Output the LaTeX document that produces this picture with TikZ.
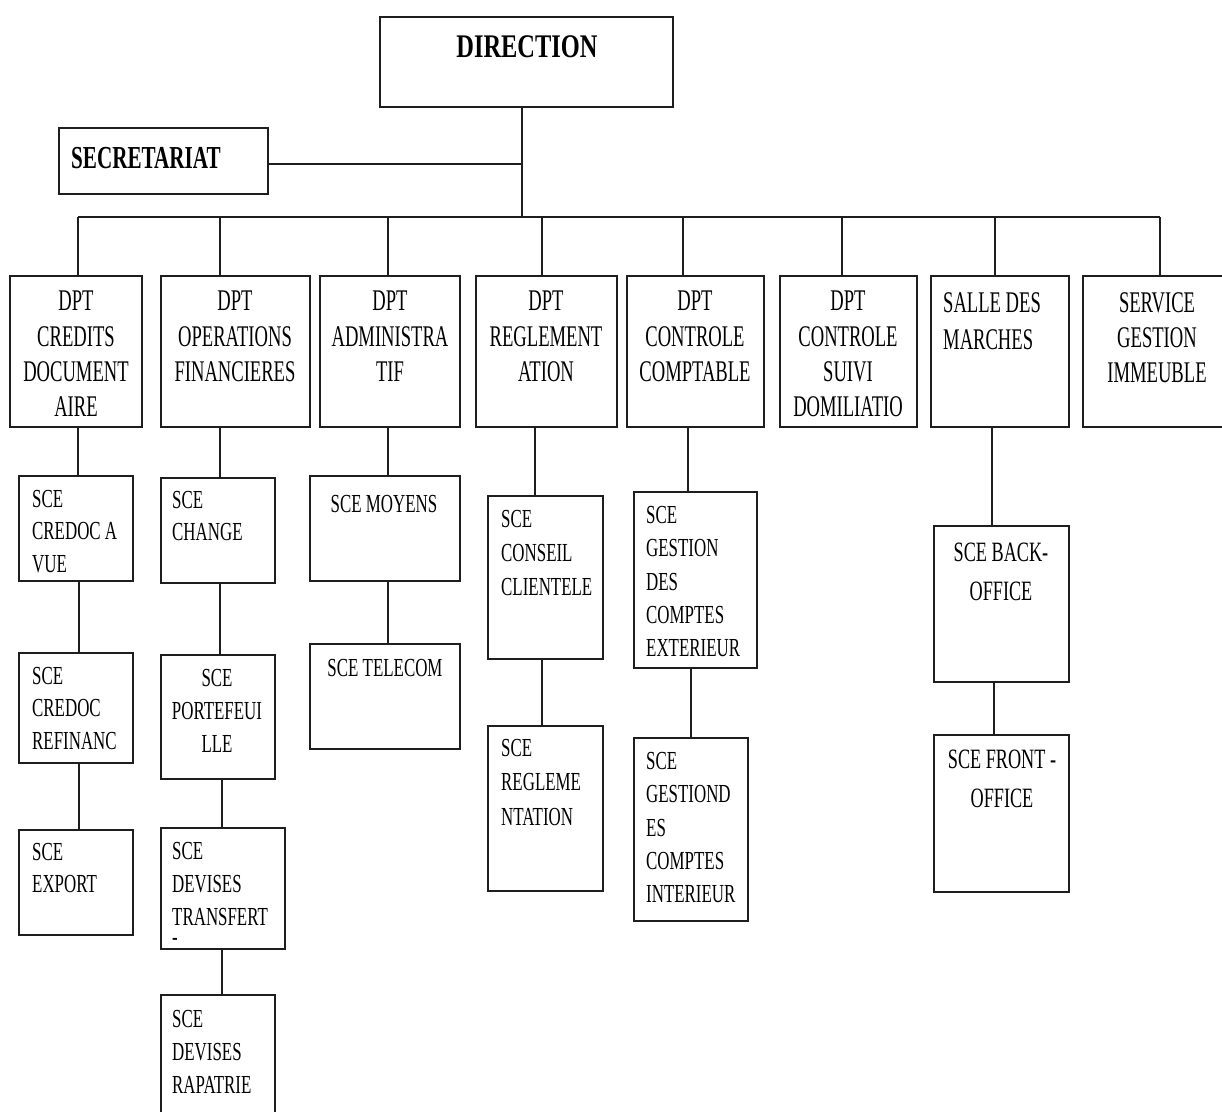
\documentclass[tikz,border=0pt]{standalone}
\usepackage{fontspec}
\usetikzlibrary{fit}
\newfontfamily\dptfont[FakeStretch=0.62]{Liberation Serif}
\newfontfamily\scefont[FakeStretch=0.65]{Liberation Serif}
\newfontfamily\dirfont[FakeStretch=0.74]{Liberation Serif}
\newfontfamily\secfont[FakeStretch=0.66]{Liberation Serif}
\definecolor{ink}{HTML}{1E1E1E}
\tikzset{
  box/.style={draw=ink, line width=1.6pt, inner sep=0pt, outer sep=0pt},
  link/.style={draw=ink, line width=1.6pt},
  dpt/.style={inner sep=0pt, anchor=north, align=center, text=black,
    font={\dptfont\fontsize{30}{35.3}\selectfont}},
  sce/.style={inner sep=0pt, anchor=north west, align=left, text=black,
    font={\scefont\fontsize{26}{33}\selectfont}},
  scec/.style={sce, anchor=north, align=center},
  scebig/.style={scec, font={\scefont\fontsize{28}{39}\selectfont}},
}
\begin{document}
\begin{tikzpicture}[x=1pt, y=-1pt]
\useasboundingbox (0,0) rectangle (1222,1111);

% top of the chart
\node[box, fit={(380,17) (673,107)}] (dir) {};
\node[inner sep=0pt, anchor=north, font={\dirfont\bfseries\fontsize{33}{36}\selectfont}] (dirt) at (527,35) {DIRECTION};
\node[box, fit={(59,128) (268,194)}] (sec) {};
\node[inner sep=0pt, anchor=north west, font={\secfont\bfseries\fontsize{32}{36}\selectfont}] (sect) at (71,147) {SECRETARIAT};

\coordinate (hub) at (522,164);
\coordinate (bus) at (522,217);
\draw[link] (dir.south -| hub) -- (bus);
\draw[link] (sec.east |- hub) -- (hub);

% departments
\node[box, fit={(10,276) (142,427)}] (d1) {};
\node[box, fit={(161,276) (310,427)}] (d2) {};
\node[box, fit={(320,276) (460,427)}] (d3) {};
\node[box, fit={(476,276) (617,427)}] (d4) {};
\node[box, fit={(627,276) (764,427)}] (d5) {};
\node[box, fit={(780,276) (917,427)}] (d6) {};
\node[box, fit={(931,276) (1069,427)}] (d7) {};
\node[box, fit={(1083,276) (1224,427)}] (d8) {};

\node[dpt] (d1t) at (76,291) {DPT\\CREDITS\\DOCUMENT\\AIRE};
\node[dpt] (d2t) at (235,291) {DPT\\OPERATIONS\\FINANCIERES};
\node[dpt] (d3t) at (390,291) {DPT\\ADMINISTRA\\TIF};
\node[dpt] (d4t) at (546,291) {DPT\\REGLEMENT\\ATION};
\node[dpt] (d5t) at (695,291) {DPT\\CONTROLE\\COMPTABLE};
\node[dpt] (d6t) at (848,291) {DPT\\CONTROLE\\SUIVI\\DOMILIATIO};
\node[dpt, anchor=north west, align=left, font={\dptfont\fontsize{30}{37.5}\selectfont}] (d7t) at (943,292) {SALLE DES\\MARCHES};
\node[dpt] (d8t) at (1157,292) {SERVICE\\GESTION\\IMMEUBLE};

% bus to the departments
\coordinate (busl) at (78,217);
\coordinate (busr) at (1160,217);
\draw[link] (busl) -- (busr);
\foreach \n/\x in {d1/78, d2/220, d3/388, d4/542, d5/683, d6/842, d7/995, d8/1160}
  \draw[link] (\x,217) -- (\n.north -| \x,0);

% services, column 1
\node[box, fit={(19,476) (133,581)}] (s11) {};
\node[box, fit={(19,653) (133,763)}] (s12) {};
\node[box, fit={(19,830) (133,935)}] (s13) {};
\node[sce, font={\scefont\fontsize{26}{32.5}\selectfont}] (s11t) at (32,490) {SCE\\CREDOC A\\VUE};
\node[sce, font={\scefont\fontsize{26}{32.5}\selectfont}] (s12t) at (32,667) {SCE\\CREDOC\\REFINANC};
\node[sce, font={\scefont\fontsize{26}{32.5}\selectfont}] (s13t) at (32,843) {SCE\\EXPORT};
\draw[link] (d1.south -| 78,0) -- (s11.north -| 78,0);
\draw[link] (s11.south -| 79,0) -- (s12.north -| 79,0);
\draw[link] (s12.south -| 79,0) -- (s13.north -| 79,0);

% services, column 2
\node[box, fit={(161,478) (275,583)}] (s21) {};
\node[box, fit={(161,655) (275,779)}] (s22) {};
\node[box, fit={(161,828) (285,949)}] (s23) {};
\node[box, fit={(161,995) (275,1116)}] (s24) {};
\node[sce, font={\scefont\fontsize{26}{32}\selectfont}] (s21t) at (172,491) {SCE\\CHANGE};
\node[scec] (s22t) at (217,669) {SCE\\PORTEFEUI\\LLE};
\node[sce, font={\scefont\fontsize{26}{33}\selectfont}] (s23t) at (172,842) {SCE\\DEVISES\\TRANSFERT};
\node[sce] (s23h) at (172,938) {-};
\node[sce] (s24t) at (172,1010) {SCE\\DEVISES\\RAPATRIE};
\draw[link] (d2.south -| 220,0) -- (s21.north -| 220,0);
\draw[link] (s21.south -| 220,0) -- (s22.north -| 220,0);
\draw[link] (s22.south -| 222,0) -- (s23.north -| 222,0);
\draw[link] (s23.south -| 222,0) -- (s24.north -| 222,0);

% services, column 3
\node[box, fit={(310,476) (460,581)}] (s31) {};
\node[box, fit={(310,644) (460,749)}] (s32) {};
\node[scec] (s31t) at (384,495) {SCE MOYENS};
\node[scec] (s32t) at (385,659) {SCE TELECOM};
\draw[link] (d3.south -| 388,0) -- (s31.north -| 388,0);
\draw[link] (s31.south -| 388,0) -- (s32.north -| 388,0);

% services, column 4
\node[box, fit={(488,496) (603,659)}] (s41) {};
\node[box, fit={(488,726) (603,891)}] (s42) {};
\node[sce, font={\scefont\fontsize{26}{34}\selectfont}] (s41t) at (501,510) {SCE\\CONSEIL\\CLIENTELE};
\node[sce, font={\scefont\fontsize{26}{34.5}\selectfont}] (s42t) at (501,739) {SCE\\REGLEME\\NTATION};
\draw[link] (d4.south -| 535,0) -- (s41.north -| 535,0);
\draw[link] (s41.south -| 542,0) -- (s42.north -| 542,0);

% services, column 5
\node[box, fit={(634,492) (757,668)}] (s51) {};
\node[box, fit={(634,738) (748,921)}] (s52) {};
\node[sce, font={\scefont\fontsize{26}{33.3}\selectfont}] (s51t) at (646,506) {SCE\\GESTION\\DES\\COMPTES\\EXTERIEUR};
\node[sce, font={\scefont\fontsize{26}{33.3}\selectfont}] (s52t) at (646,752) {SCE\\GESTIOND\\ES\\COMPTES\\INTERIEUR};
\draw[link] (d5.south -| 688,0) -- (s51.north -| 688,0);
\draw[link] (s51.south -| 691,0) -- (s52.north -| 691,0);

% services, trading room
\node[box, fit={(934,526) (1069,682)}] (s71) {};
\node[box, fit={(934,735) (1069,892)}] (s72) {};
\node[scebig] (s71t) at (1001,543) {SCE BACK-\\OFFICE};
\node[scebig] (s72t) at (1002,750) {SCE FRONT -\\OFFICE};
\draw[link] (d7.south -| 992,0) -- (s71.north -| 992,0);
\draw[link] (s71.south -| 994,0) -- (s72.north -| 994,0);
\end{tikzpicture}
\end{document}
